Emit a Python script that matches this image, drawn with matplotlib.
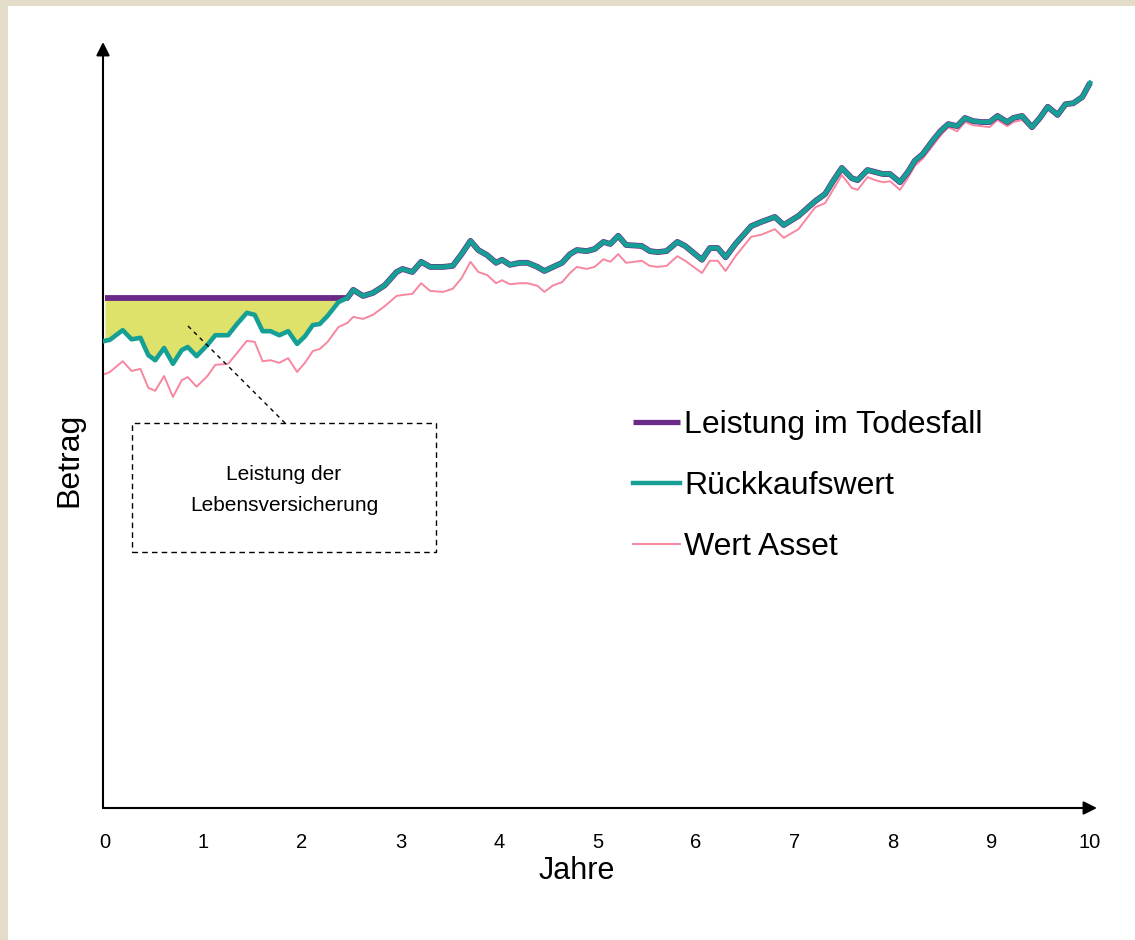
import numpy as np
import matplotlib
matplotlib.use("Agg")
import matplotlib.pyplot as plt
from matplotlib.patches import Rectangle

plt.rcParams['font.family'] = ['Liberation Sans', 'DejaVu Sans']

# time in years (roughly monthly steps)
jahre = [0.00, 0.05, 0.18, 0.27, 0.36, 0.44, 0.51, 0.60, 0.69, 0.78,
         0.84, 0.93, 1.04, 1.12, 1.25, 1.34, 1.44, 1.52, 1.60, 1.68,
         1.77, 1.86, 1.95, 2.03, 2.11, 2.18, 2.26, 2.37, 2.46, 2.52,
         2.62, 2.72, 2.84, 2.96, 3.02, 3.12, 3.21, 3.30, 3.43, 3.53,
         3.62, 3.71, 3.79, 3.88, 3.97, 4.03, 4.11, 4.21, 4.29, 4.39,
         4.46, 4.55, 4.64, 4.72, 4.79, 4.89, 4.97, 5.06, 5.13, 5.21,
         5.29, 5.45, 5.53, 5.61, 5.70, 5.81, 5.89, 6.06, 6.14, 6.22,
         6.30, 6.40, 6.56, 6.66, 6.80, 6.89, 7.04, 7.21, 7.31, 7.39,
         7.48, 7.58, 7.64, 7.74, 7.82, 7.90, 7.97, 8.07, 8.15, 8.22,
         8.30, 8.40, 8.48, 8.56, 8.65, 8.73, 8.81, 8.90, 8.98, 9.06,
         9.16, 9.22, 9.31, 9.41, 9.49, 9.57, 9.67, 9.75, 9.83, 9.92,
         10.00]

# surrender value
rueckkaufswert = [91.6, 91.8, 93.7, 91.9, 92.2, 88.8, 87.8, 90.2, 87.1, 89.8,
                  90.4, 88.6, 90.8, 92.7, 92.7, 94.9, 97.1, 96.7, 93.5, 93.5,
                  92.7, 93.5, 91.0, 92.5, 94.7, 94.9, 96.5, 99.2, 100.0, 101.6,
                  100.4, 101.0, 102.5, 105.1, 105.7, 105.1, 107.1, 106.1, 106.1, 106.3,
                  108.6, 111.2, 109.4, 108.4, 106.9, 107.5, 106.5, 106.9, 106.9, 106.1,
                  105.3, 106.1, 106.9, 108.6, 109.4, 109.2, 109.6, 111.0, 110.6, 112.2,
                  110.4, 110.2, 109.2, 109.0, 109.2, 111.0, 110.2, 107.5, 109.8, 109.8,
                  108.0, 110.6, 114.1, 114.9, 115.9, 114.3, 116.1, 119.0, 120.4, 122.9,
                  125.5, 123.5, 123.1, 125.1, 124.7, 124.3, 124.3, 122.7, 124.7, 126.9,
                  128.2, 130.8, 132.7, 134.1, 133.7, 135.3, 134.7, 134.5, 134.5, 135.7,
                  134.5, 135.3, 135.7, 133.5, 135.3, 137.5, 135.9, 138.0, 138.2, 139.4,
                  142.2]

# value of the underlying asset
wert_asset = [85.1, 85.5, 87.6, 85.7, 86.1, 82.4, 81.8, 84.7, 80.6, 83.9,
              84.5, 82.6, 84.7, 86.9, 87.1, 89.2, 91.6, 91.4, 87.6, 87.8,
              87.3, 88.2, 85.5, 87.3, 89.6, 90.0, 91.4, 94.3, 95.1, 96.3,
              95.9, 96.7, 98.4, 100.4, 100.6, 100.8, 102.9, 101.4, 101.2, 101.8,
              103.9, 107.1, 105.1, 104.5, 102.9, 103.5, 102.7, 102.9, 102.9, 102.4,
              101.2, 102.5, 103.1, 104.9, 106.1, 105.7, 106.1, 107.6, 107.1, 108.6,
              106.9, 107.3, 106.3, 106.1, 106.3, 108.2, 107.3, 104.9, 107.3, 107.3,
              105.3, 108.2, 112.0, 112.4, 113.5, 111.8, 113.5, 117.8, 118.6, 121.2,
              124.1, 121.6, 121.2, 123.7, 123.1, 122.7, 122.9, 121.2, 123.5, 125.9,
              127.3, 129.8, 131.8, 133.5, 132.7, 134.5, 133.9, 133.7, 133.5, 134.9,
              133.7, 134.5, 134.9, 133.1, 134.9, 137.1, 135.5, 137.8, 138.0, 139.2,
              142.2]

garantie = 100.0  # guaranteed death benefit

x = np.array(jahre)
rkw = np.array(rueckkaufswert)
asset = np.array(wert_asset)
todesfall = np.maximum(garantie, rkw)

W, H = 1135, 940
fig = plt.figure(figsize=(W / 100, H / 100), dpi=100, facecolor='#E3DCC9')
fig.patches.append(Rectangle((8 / W, 0), 1 - 8 / W, 1 - 6 / H,
                             transform=fig.transFigure, facecolor='white',
                             edgecolor='none', zorder=-10))

# axes box: left axis at px 103, bottom axis at px 808
ax = fig.add_axes([103 / W, (H - 808) / H, (1097 - 103) / W, (808 - 42) / H])
ax.set_facecolor('none')
ax.set_xlim(-0.02, 10.07)
ax.set_ylim(0, 150.2)
for s in ax.spines.values():
    s.set_visible(False)

# axis arrows
ax.annotate('', xy=(1, 0), xytext=(0, 0), xycoords='axes fraction',
            arrowprops=dict(arrowstyle='-|>', color='black', lw=1.5,
                            mutation_scale=20, shrinkA=0, shrinkB=0))
ax.annotate('', xy=(0, 1), xytext=(0, 0), xycoords='axes fraction',
            arrowprops=dict(arrowstyle='-|>', color='black', lw=1.5,
                            mutation_scale=20, shrinkA=0, shrinkB=0))

ax.set_xticks(range(11))
ax.set_xticklabels([str(i) for i in range(11)])
ax.tick_params(axis='x', length=0, pad=18, labelsize=14.5)
ax.set_yticks([])
ax.set_xlabel('Jahre', fontsize=22)
ax.xaxis.set_label_coords((577 - 103) / 994, -(871 - 808) / 766)
ax.xaxis.label.set_va('center')
ax.set_ylabel('Betrag', fontsize=23)
ax.yaxis.set_label_coords(-(103 - 69) / 994, (808 - 460) / 766)
ax.yaxis.label.set_va('center')

# shaded benefit of the life insurance
ax.fill_between(x, garantie, rkw, where=rkw <= garantie, interpolate=True,
                color='#DEE26A', linewidth=0, zorder=1)

ax.plot(x, asset, color='#F7879F', lw=1.4, zorder=2, label='Wert Asset')
ax.plot(x, todesfall, color='#6C2A88', lw=4.2, zorder=3,
        solid_capstyle='butt', label='Leistung im Todesfall')
ax.plot(x, rkw, color='#16A095', lw=3.3, zorder=4, label='Rückkaufswert')

handles, labels = ax.get_legend_handles_labels()
order = [1, 2, 0]
leg = ax.legend([handles[i] for i in order], [labels[i] for i in order],
                loc='upper left', bbox_to_anchor=(0.52, 0.536), frameon=False,
                fontsize=23, handlelength=1.47, handletextpad=0.15,
                labelspacing=0.97, borderaxespad=0)
for line, lw in zip(leg.get_lines(), [3.8, 3.2, 1.4]):
    line.set_linewidth(lw)

# annotation box with leader line
fig.patches.append(Rectangle((132 / W, 1 - 552 / H), 304 / W, 129 / H,
                             transform=fig.transFigure, fill=False,
                             linestyle=(0, (4, 3)), lw=1.0, edgecolor='black'))
fig.text(284 / W, 1 - 490 / H, 'Leistung der\nLebensversicherung',
         ha='center', va='center', fontsize=15, linespacing=1.75)
fig.lines.append(plt.Line2D([188 / W, 285 / W], [1 - 326 / H, 1 - 423 / H],
                            transform=fig.transFigure, color='black', lw=1.0,
                            linestyle=(0, (3, 3))))

fig.savefig('out.png', dpi=100, facecolor=fig.get_facecolor())
